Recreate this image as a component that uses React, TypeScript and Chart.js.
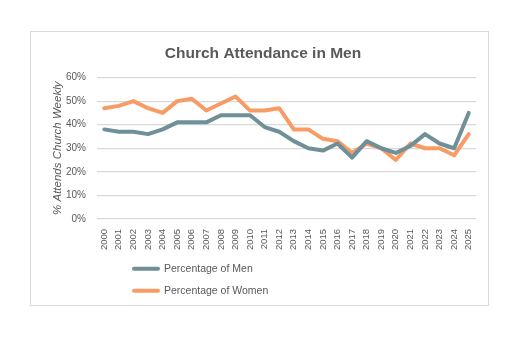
import React, { useEffect, useRef } from "react";
import { Chart, registerables } from "chart.js";

Chart.register(...registerables);

const years = [
  "2000","2001","2002","2003","2004","2005","2006","2007","2008","2009",
  "2010","2011","2012","2013","2014","2015","2016","2017","2018","2019",
  "2020","2021","2022","2023","2024","2025",
];
const men = [38,37,37,36,38,41,41,41,44,44,44,39,37,33,30,29,32,26,33,30,28,31,36,32,30,45];
const women = [47,48,50,47,45,50,51,46,49,52,46,46,47,38,38,34,33,28,32,30,25,32,30,30,27,36];
const seriesNames = ["Percentage of Men", "Percentage of Women"];
const seriesColors = ["#6F9099", "#F79C64"];
const chartTitle = "Church Attendance in Men";
const yTitle = "% Attends Church Weekly";

const FONT = "'Liberation Sans', Arial, sans-serif";

const stackedLegend = {
  id: "stackedLegend",
  afterDraw(chart: any) {
    const { ctx, chartArea } = chart;
    const x0 = chartArea.left + 35;
    const y0 = chartArea.bottom + 50;
    ctx.save();
    chart.data.datasets.forEach((ds: any, i: number) => {
      const y = y0 + i * 22;
      ctx.strokeStyle = ds.borderColor;
      ctx.lineWidth = 4;
      ctx.lineCap = "round";
      ctx.beginPath();
      ctx.moveTo(x0 + 2, y);
      ctx.lineTo(x0 + 26, y);
      ctx.stroke();
      ctx.fillStyle = "#595959";
      ctx.font = `10.5px ${FONT}`;
      ctx.textBaseline = "middle";
      ctx.textAlign = "left";
      ctx.fillText(ds.label, x0 + 32, y);
    });
    ctx.restore();
  },
};

export default function App() {
  const ref = useRef<HTMLCanvasElement>(null);
  useEffect(() => {
    if (!ref.current) return;
    const chart = new Chart(ref.current, {
      type: "line",
      data: {
        labels: years,
        datasets: [
          {
            label: seriesNames[0],
            data: men,
            borderColor: seriesColors[0],
            backgroundColor: seriesColors[0],
            borderWidth: 4,
            pointRadius: 0,
            tension: 0,
            borderJoinStyle: "round",
            borderCapStyle: "round",
          },
          {
            label: seriesNames[1],
            data: women,
            borderColor: seriesColors[1],
            backgroundColor: seriesColors[1],
            borderWidth: 4,
            pointRadius: 0,
            tension: 0,
            borderJoinStyle: "round",
            borderCapStyle: "round",
          },
        ],
      },
      options: {
        animation: false,
        responsive: false,
        maintainAspectRatio: false,
        layout: { padding: { left: 19, right: 12, top: 0, bottom: 53 } },
        plugins: {
          legend: { display: false },
          tooltip: { enabled: false },
          title: {
            display: true,
            text: chartTitle,
            color: "#595959",
            font: { family: FONT, size: 15.5, weight: "bold" },
            padding: { top: 12, bottom: 15 },
          },
        },
        scales: {
          x: {
            offset: true,
            grid: { display: false },
            border: { display: false },
            ticks: {
              minRotation: 90,
              maxRotation: 90,
              autoSkip: false,
              color: "#595959",
              font: { family: FONT, size: 9.5 },
              padding: 2,
            },
          },
          y: {
            min: 0,
            max: 60,
            afterFit: (scale: any) => {
              scale.width = 47;
            },
            grid: { color: "#D9D9D9", lineWidth: 1.2, drawTicks: false },
            border: { display: false },
            ticks: {
              stepSize: 10,
              color: "#595959",
              font: { family: FONT, size: 10 },
              padding: 11,
              callback: (v: any) => v + "%",
            },
            title: {
              display: true,
              text: yTitle,
              color: "#595959",
              font: { family: FONT, size: 11.5, style: "italic" },
              padding: { top: 1, bottom: 0 },
            },
          },
        },
      },
      plugins: [stackedLegend],
    });
    return () => chart.destroy();
  }, []);
  return (
    <div style={{ position: "fixed", left: 0, top: 0, width: 521, height: 337, background: "#fff" }}>
      <div
        style={{
          position: "absolute",
          left: 30,
          top: 31,
          width: 457,
          height: 273,
          border: "1px solid #D9D9D9",
        }}
      >
        <canvas ref={ref} width={457} height={273} style={{ display: "block" }} />
      </div>
    </div>
  );
}
